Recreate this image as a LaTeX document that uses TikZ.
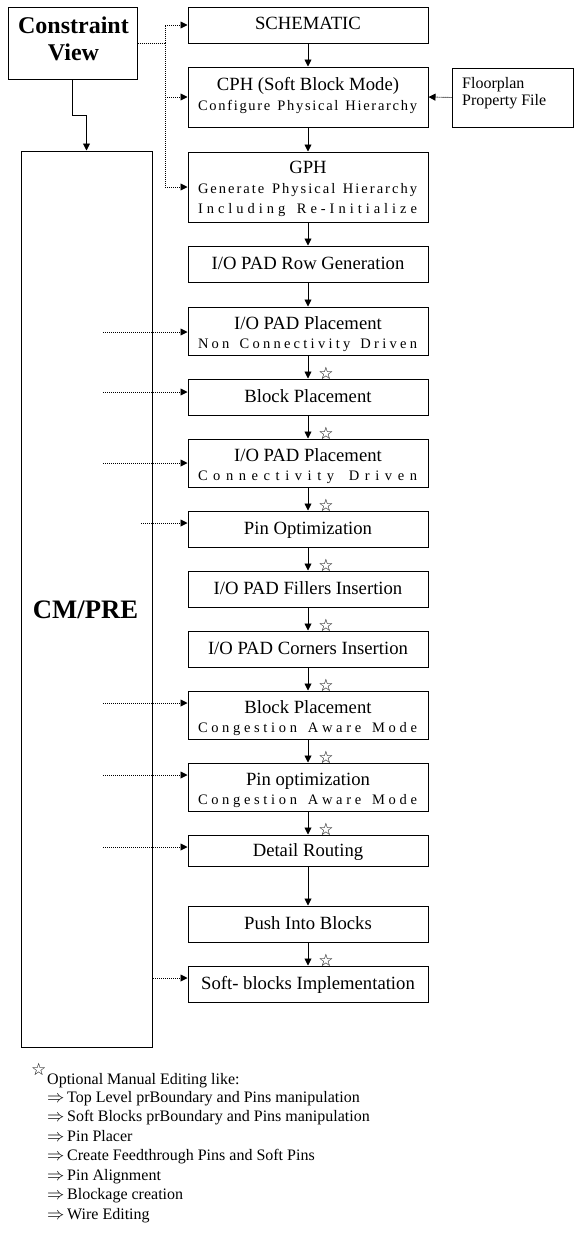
\documentclass[tikz,border=0pt]{standalone}
\usepackage{fontspec}
\setmainfont{Liberation Serif}
\newfontfamily\starfont{DejaVu Sans}
\usetikzlibrary{arrows.meta}
\ExplSyntaxOn
\bool_new:N \l_my_first_bool
\cs_new_protected:Npn \my_spread:nn #1#2
  {
    \hbox_to_wd:nn {#1}
      {
        \bool_set_true:N \l_my_first_bool
        \tl_map_inline:nn {#2}
          {
            \bool_if:NTF \l_my_first_bool
              { \bool_set_false:N \l_my_first_bool }
              { \hskip 0pt plus 1fil \relax }
            ##1
          }
      }
  }
\NewDocumentCommand \spreadtext { m m } { \my_spread:nn {#1} {#2} }
\ExplSyntaxOff
\tikzset{
  box/.style={draw, line width=1pt, inner sep=0pt, minimum width=240pt},
  ttl/.style={anchor=base, inner sep=0pt, font=\fontsize{18.67}{20}\selectfont},
  sub/.style={anchor=base, inner sep=0pt, font=\fontsize{14.5}{16}\selectfont},
  fnt/.style={anchor=base west, inner sep=0pt, font=\fontsize{16}{18}\selectfont},
  bigb/.style={anchor=base, inner sep=0pt, font=\bfseries\fontsize{24}{26}\selectfont},
  optstar/.style={inner sep=0pt, font=\starfont\fontsize{17}{17}\selectfont},
  arr/.style={line width=0.9pt, -{Triangle[length=7pt,width=7pt]}},
  dotline/.style={line width=0.9pt, dash pattern=on 1pt off 1pt},
  dotarr/.style={dotline, -{Triangle[length=7pt,width=7pt]}},
}
\begin{document}
\begin{tikzpicture}[x=1pt,y=-1pt]
\useasboundingbox[fill=white] (0,0) rectangle (581,1240);

% left boxes
\node[draw, line width=1pt, inner sep=0pt, minimum width=129pt, minimum height=72pt] (cv) at (72.5,43) {};
\node[bigb] (cv-t1) at (73.5,33.5) {Constraint};
\node[bigb] (cv-t2) at (73.5,60) {View};
\node[draw, line width=1pt, inner sep=0pt, minimum width=131pt, minimum height=896pt] (cm) at (86.5,599) {};
\node[anchor=base, inner sep=0pt, font=\bfseries\fontsize{26.67}{28}\selectfont] (cm-t) at (85.5,618) {CM/PRE};

% floorplan file
\node[draw, line width=1pt, inner sep=0pt, minimum width=121pt, minimum height=59pt] (fp) at (512.5,97.5) {};
\node[fnt] (fp-t1) at (462,88) {Floorplan};
\node[fnt] (fp-t2) at (462,105) {Property File};

% flow boxes
\node[box, minimum height=36pt] (sch) at (308,25) {};
\node[ttl] (sch-t) at (308,29) {SCHEMATIC};

\node[box, minimum height=60pt] (cph) at (308,97) {};
\node[ttl] (cph-t) at (308,90) {CPH (Soft Block Mode)};
\node[sub] (cph-s) at (307.5,110) {\spreadtext{219pt}{Configure~Physical~Hierarchy}};

\node[box, minimum height=70pt] (gph) at (308,187) {};
\node[ttl] (gph-t) at (308,173) {GPH};
\node[sub] (gph-s1) at (307.5,193) {\spreadtext{219pt}{Generate~Physical~Hierarchy}};
\node[sub] (gph-s2) at (307.5,213) {\spreadtext{219pt}{Including~Re-Initialize}};

\node[box, minimum height=36pt] (row) at (308,264) {};
\node[ttl] (row-t) at (308,269) {I/O PAD Row Generation};

\node[box, minimum height=48pt] (ncd) at (308,331) {};
\node[ttl] (ncd-t) at (308,329) {I/O PAD Placement};
\node[sub] (ncd-s) at (307.5,348) {\spreadtext{219pt}{Non~Connectivity~Driven}};

\node[box, minimum height=36pt] (bp) at (308,397) {};
\node[ttl] (bp-t) at (308,402) {Block Placement};

\node[box, minimum height=48pt] (cd) at (308,463) {};
\node[ttl] (cd-t) at (308,461) {I/O PAD Placement};
\node[sub] (cd-s) at (307.5,480) {\spreadtext{219pt}{Connectivity~Driven}};

\node[box, minimum height=36pt] (po) at (308,529) {};
\node[ttl] (po-t) at (308,534) {Pin Optimization};

\node[box, minimum height=36pt] (fil) at (308,589) {};
\node[ttl] (fil-t) at (308,594) {I/O PAD Fillers Insertion};

\node[box, minimum height=36pt] (cor) at (308,649) {};
\node[ttl] (cor-t) at (308,654) {I/O PAD Corners Insertion};

\node[box, minimum height=48pt] (bpc) at (308,715) {};
\node[ttl] (bpc-t) at (308,713) {Block Placement};
\node[sub] (bpc-s) at (307.5,732) {\spreadtext{219pt}{Congestion~Aware~Mode}};

\node[box, minimum height=48pt] (poc) at (308,787) {};
\node[ttl] (poc-t) at (308,785) {Pin optimization};
\node[sub] (poc-s) at (307.5,804) {\spreadtext{219pt}{Congestion~Aware~Mode}};

\node[box, minimum height=31pt] (dr) at (308,850.5) {};
\node[ttl] (dr-t) at (308,856) {Detail Routing};

\node[box, minimum height=36pt] (push) at (308,924) {};
\node[ttl] (push-t) at (308,929) {Push Into Blocks};

\node[box, minimum height=36pt] (soft) at (308,984) {};
\node[ttl] (soft-t) at (308,989) {Soft- blocks Implementation};

% solid flow arrows
\draw[arr] (sch.south) -- (cph.north);
\draw[arr] (cph.south) -- (gph.north);
\draw[arr] (gph.south) -- (row.north);
\draw[arr] (row.south) -- (ncd.north);
\draw[arr] (ncd.south) -- (bp.north);
\draw[arr] (bp.south) -- (cd.north);
\draw[arr] (cd.south) -- (po.north);
\draw[arr] (po.south) -- (fil.north);
\draw[arr] (fil.south) -- (cor.north);
\draw[arr] (cor.south) -- (bpc.north);
\draw[arr] (bpc.south) -- (poc.north);
\draw[arr] (poc.south) -- (dr.north);
\draw[arr] (dr.south) -- (push.north);
\draw[arr] (push.south) -- (soft.north);

% optional-edit stars
\node[optstar] (s1) at (326,373) {☆};
\node[optstar] (s2) at (326,433) {☆};
\node[optstar] (s3) at (326,505) {☆};
\node[optstar] (s4) at (326,565) {☆};
\node[optstar] (s5) at (326,625) {☆};
\node[optstar] (s6) at (326,685) {☆};
\node[optstar] (s7) at (326,757) {☆};
\node[optstar] (s8) at (326,829) {☆};
\node[optstar] (s9) at (326,960) {☆};

% constraint view to CM/PRE
\draw[arr] (cv.south) -- ++(0,36) -| (cm.north);

% constraint view dotted bus
\coordinate (bus) at (165,43);
\draw[dotline] (cv.east) -- (bus);
\draw[dotarr] (bus) |- (sch.west);
\draw[dotarr] (bus) |- (cph.west);
\draw[dotarr] (bus) |- (gph.west);
\draw[dotarr] (fp.west) -- (cph.east);

% dotted arrows from CM/PRE
\coordinate (d1) at (103,332);
\coordinate (d2) at (103,392);
\coordinate (d3) at (103,463);
\coordinate (d4) at (141,523);
\coordinate (d5) at (103,703);
\coordinate (d6) at (103,775);
\coordinate (d7) at (103,847);
\coordinate (d8) at (153,978);
\draw[dotarr] (d1) -- (d1 -| ncd.west);
\draw[dotarr] (d2) -- (d2 -| bp.west);
\draw[dotarr] (d3) -- (d3 -| cd.west);
\draw[dotarr] (d4) -- (d4 -| po.west);
\draw[dotarr] (d5) -- (d5 -| bpc.west);
\draw[dotarr] (d6) -- (d6 -| poc.west);
\draw[dotarr] (d7) -- (d7 -| dr.west);
\draw[dotarr] (d8) -- (d8 -| soft.west);

% footnote
\node[optstar, anchor=east] (fs) at (46.5,1069) {☆};
\node[fnt] (f0) at (47,1084) {Optional Manual Editing like:};
\node[fnt] (a1) at (47,1102) {$\Rightarrow$};
\node[fnt] (t1) at (67,1102) {Top Level prBoundary and Pins manipulation};
\node[fnt] (a2) at (47,1121.5) {$\Rightarrow$};
\node[fnt] (t2) at (67,1121.5) {Soft Blocks prBoundary and Pins manipulation};
\node[fnt] (a3) at (47,1141) {$\Rightarrow$};
\node[fnt] (t3) at (67,1141) {Pin Placer};
\node[fnt] (a4) at (47,1160.5) {$\Rightarrow$};
\node[fnt] (t4) at (67,1160.5) {Create Feedthrough Pins and Soft Pins};
\node[fnt] (a5) at (47,1180) {$\Rightarrow$};
\node[fnt] (t5) at (67,1180) {Pin Alignment};
\node[fnt] (a6) at (47,1199.5) {$\Rightarrow$};
\node[fnt] (t6) at (67,1199.5) {Blockage creation};
\node[fnt] (a7) at (47,1219) {$\Rightarrow$};
\node[fnt] (t7) at (67,1219) {Wire Editing};
\end{tikzpicture}
\end{document}
